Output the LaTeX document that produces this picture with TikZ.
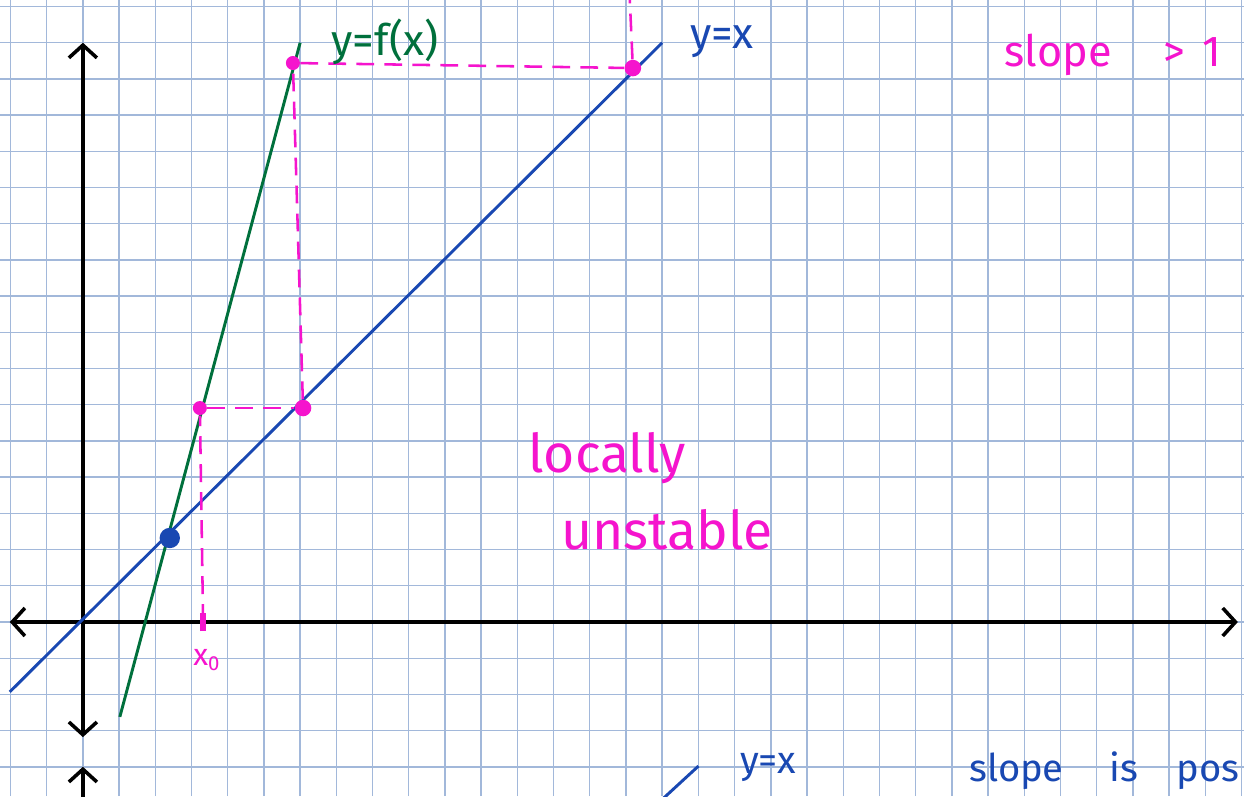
\documentclass[tikz,border=0pt]{standalone}
\usepackage{fontspec}
\setmainfont{Fira Sans}
\usetikzlibrary{arrows.meta}
\definecolor{gridc}{RGB}{162,184,218}
\definecolor{pinkc}{RGB}{245,20,205}
\definecolor{bluec}{RGB}{25,72,178}
\definecolor{greenc}{RGB}{0,112,60}

\begin{document}
\begin{tikzpicture}[
  scale=0.5,
  >={Straight Barb[length=5pt,width=11pt]},
  axis/.style={black,line width=1.4pt},
  gline/.style={line width=1.15pt},
  pdash/.style={pinkc,line width=1pt,dash pattern=on 7pt off 4pt},
  pdot/.style={circle,fill=pinkc,inner sep=0pt,minimum size=5.5pt},
  bdot/.style={circle,fill=bluec,inner sep=0pt,minimum size=8pt},
  hand/.style={inner sep=0pt,font=\fontsize{#1}{#1}\selectfont}
]
  \clip (-2.29,-4.81) rectangle (32.07,17.18);
  \fill[white] (-2.29,-4.81) rectangle (32.07,17.18);
  % squared paper
  \foreach \i in {-2,...,32}
    \draw[gridc,line width=0.55pt] (\i,-4.81) -- (\i,17.18);
  \foreach \j in {-4,...,17}
    \draw[gridc,line width=0.55pt] (-2.29,\j) -- (32.07,\j);

  % axes
  \coordinate (xl) at (-2.02,0);
  \coordinate (xr) at (31.9,0);
  \coordinate (yb) at (0,-3.18);
  \coordinate (yt) at (0,16.0);
  \draw[axis,<->] (xl) -- (xr);
  \draw[axis,<->] (yb) -- (yt);

  % y = x and y = f(x)
  \coordinate (d0) at (-2.02,-1.93);
  \coordinate (d1) at (16.0,16.0);
  \coordinate (f0) at (1.02,-2.62);
  \coordinate (f1) at (6.0,16.0);
  \draw[bluec,gline] (d0) -- (d1);
  \draw[greenc,gline] (f0) -- (f1);

  % cobweb points
  \node[bdot] (fix) at (2.40,2.32) {};
  \node[pdot] (p1) at (3.23,5.91) {};
  \node[pdot,minimum size=6.5pt] (p2) at (6.08,5.91) {};
  \node[pdot] (p3) at (5.80,15.44) {};
  \node[pdot,minimum size=6.5pt] (p4) at (15.19,15.30) {};
  \coordinate (x0) at (3.32,0);
  \coordinate (p4top) at (15.10,17.3);

  \draw[pinkc,line width=2.2pt] (3.32,-0.25) -- (3.32,0.25);
  \draw[pdash] (x0) -- (p1);
  \draw[pdash] (p1) -- (p2);
  \draw[pdash] (p2) -- (p3);
  \draw[pdash] (p3) -- (p4);
  \draw[pdash] (p4) -- (p4top);

  % labels
  \node[hand=17,greenc] (lf) at (8.34,16.02) {y=f(x)};
  \node[hand=17,bluec] (ld) at (17.65,16.02) {y=x};
  \node[hand=17,pinkc] (ls) at (28.45,15.66) {slope\hspace{1.2em}>\hspace{0.4em}1};
  \node[hand=21,pinkc] (ll) at (14.48,4.53) {locally};
  \node[hand=21,pinkc] (lu) at (16.13,2.54) {unstable};
  \node[hand=12,pinkc] (lx) at (3.43,-1.05) {x\textsubscript{0}};

  % next graph, cut off
  \coordinate (y2b) at (0,-5.0);
  \coordinate (y2t) at (0,-4.0);
  \draw[axis,->] (y2b) -- (y2t);
  \coordinate (e0) at (16.0,-4.9);
  \coordinate (e1) at (17.0,-3.98);
  \draw[bluec,gline] (e0) -- (e1);
  \node[hand=15,bluec] (lb) at (18.92,-4.03) {y=x};
  \node[hand=15,bluec,anchor=east] (lp) at (31.95,-4.1) {slope\hspace{1.2em}is\hspace{1em}pos};
\end{tikzpicture}
\end{document}
